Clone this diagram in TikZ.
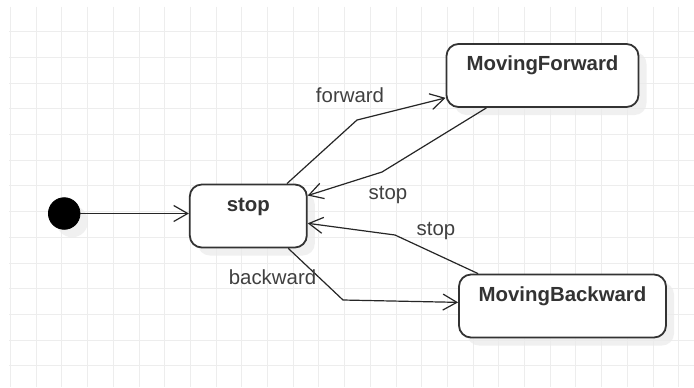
\documentclass[tikz,border=0pt]{standalone}
\usepackage{fontspec}
\setmainfont{Liberation Sans}
\usetikzlibrary{arrows.meta,shadows}

\begin{document}
\begin{tikzpicture}[
  x=0.5pt, y=-0.5pt,
  gridline/.style={draw=black!7, line width=0.5pt},
  state/.style={rectangle, rounded corners=6pt, draw=black!80, line width=0.9pt, fill=white,
    inner ysep=0pt, text height=13.4pt, text depth=18.1pt, text=black!80,
    font=\fontsize{10.2}{12}\selectfont\bfseries,
    drop shadow={shadow xshift=4pt, shadow yshift=-4pt, fill=black!8, opacity=0.7}},
  initial state/.style={circle, fill=black, draw=black, minimum size=15.8pt, inner sep=0pt,
    drop shadow={shadow xshift=4pt, shadow yshift=-4pt, fill=black!8, opacity=0.7}},
  trans/.style={-{Straight Barb[length=7pt,width=8pt]}, line width=0.6pt, draw=black!85},
  tlabel/.style={font=\fontsize{10.2}{12}\selectfont, text=black!75, anchor=base, inner sep=0pt}
]
\useasboundingbox (0,0) rectangle (694,387);
\fill[white] (0,0) rectangle (694,387);

% Background grid
\foreach \i in {0,...,26}
  \draw[gridline] (10.5+25.7*\i,6.5) -- (10.5+25.7*\i,387);
\foreach \j in {1,...,14}
  \draw[gridline] (9,6+25.7*\j) -- (694,6+25.7*\j);

% States
\node[initial state] (init) at (64.2,213.5) {};
\node[state, minimum width=58.5pt] (stop) at (248.3,216) {stop};
\node[state, minimum width=96pt] (fwd) at (542.5,75.5) {MovingForward};
\node[state, minimum width=103.5pt] (bwd) at (562.5,306) {MovingBackward};

% Bend points of the transitions
\coordinate (fwdbend) at (357,120);
\coordinate (fwdback) at (382,172);
\coordinate (bwdback) at (395,235);
\coordinate (bwdbend) at (343,300);

% Transitions
\draw[trans] (init) -- (init -| stop.west);
\draw[trans] (stop.40) -- (fwdbend) -- (fwd.193);
\draw[trans] (fwd.210) -- (fwdback) -- (stop.19);
\draw[trans] (bwd.159) -- (bwdback) -- (stop.-7);
\draw[trans] (stop.-39) -- (bwdbend) -- (bwd.178);

% Transition labels
\node[tlabel] (forwardlbl) at (350,102.7) {forward};
\node[tlabel] (stoplbl1) at (388,199) {stop};
\node[tlabel] (stoplbl2) at (436,235.7) {stop};
\node[tlabel] (backwardlbl) at (272.5,284) {backward};

\end{tikzpicture}
\end{document}
